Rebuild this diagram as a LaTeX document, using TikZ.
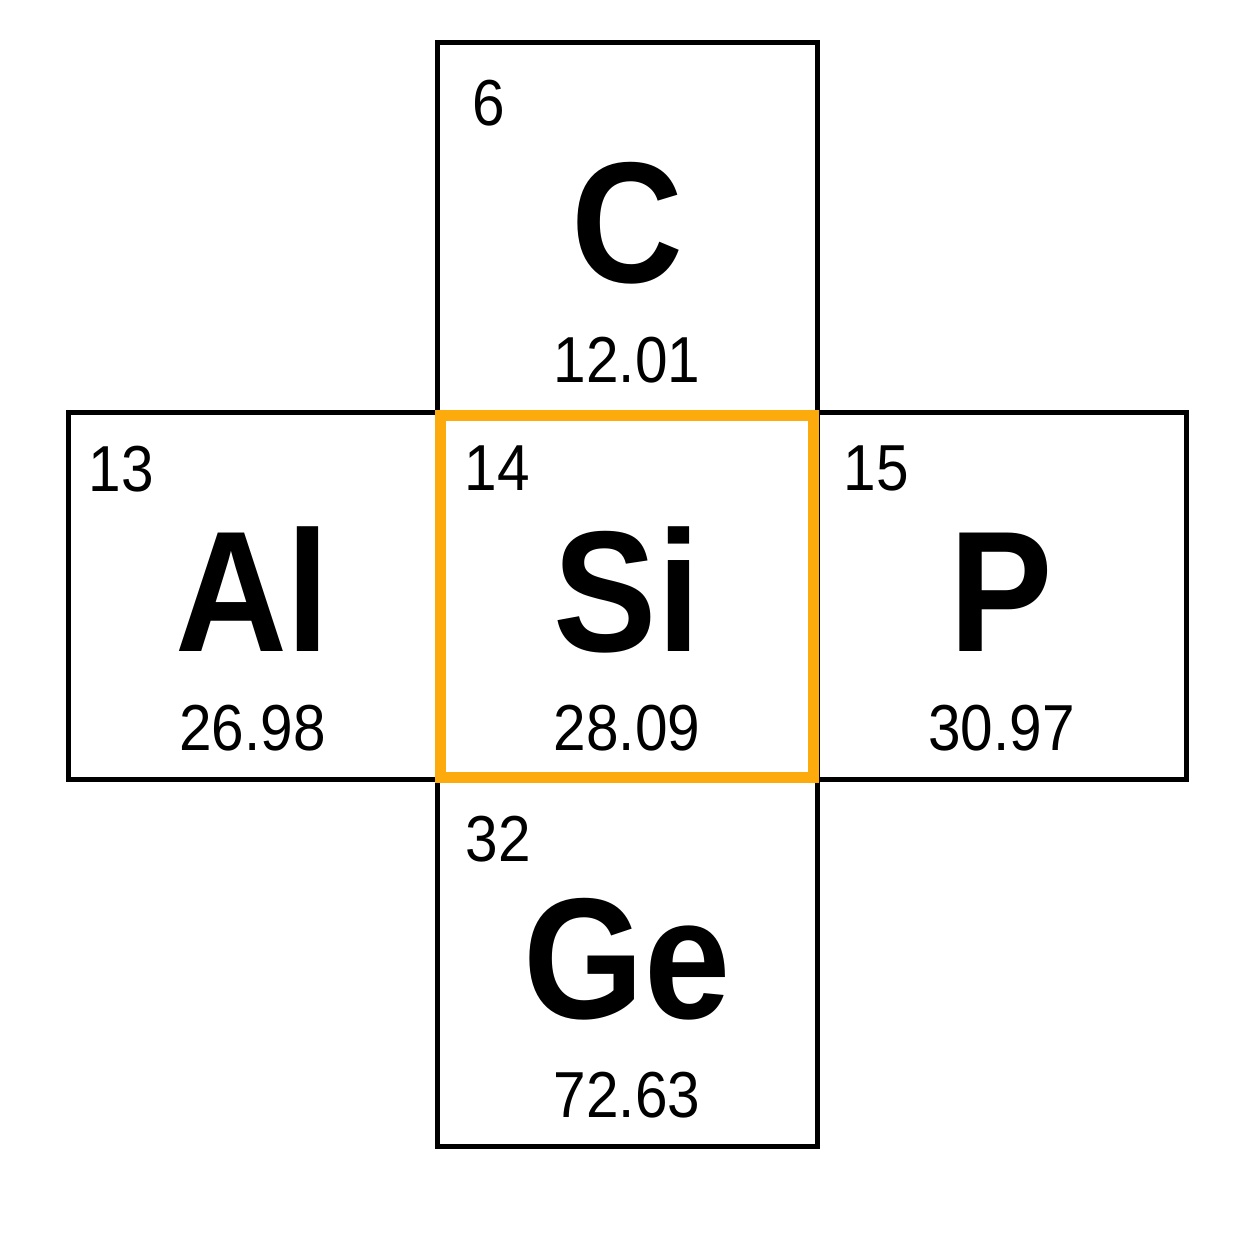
\documentclass[tikz,border=0pt]{standalone}
\usepackage{fontspec}
\setmainfont{Liberation Sans}[FakeStretch=0.9]
\usetikzlibrary{positioning}
\definecolor{siorange}{RGB}{252,170,12}

\begin{document}
\begin{tikzpicture}

        \tikzset{
            cell/.style={draw, line width=0.05cm, minimum width=3.80cm, minimum height=3.67cm, inner sep=0pt, outer sep=0pt},
            side/.style={cell, minimum width=3.69cm},
            num/.style={anchor=north west, inner sep=0pt, font=\fontsize{18.5pt}{20pt}\selectfont},
            sym/.style={anchor=base, inner sep=0pt, font=\fontsize{49pt}{56pt}\selectfont\bfseries},
            mass/.style={anchor=base, inner sep=0pt, font=\fontsize{18.5pt}{20pt}\selectfont},
            hilite/.style={draw=siorange, line width=0.11cm}
        }

        \useasboundingbox (0,0) rectangle (12.54,-12.54);

        \node[cell] (si) at (6.27,-5.96) {};
        \node[cell, minimum height=3.70cm, above=0pt of si] (c) {};
        \node[side, left=0pt of si] (al) {};
        \node[side, right=0pt of si] (p) {};
        \node[cell, below=0pt of si] (ge) {};

        \draw[hilite]
        ([shift={(0.035,-0.035)}]si.north west) rectangle
        ([shift={(-0.035,0.025)}]si.south east);

        \node[num] (c-num) at ([shift={(0.35,-0.37)}]c.north west) {6};
        \node[sym] (c-sym) at ([yshift=-2.40cm]c.north) {C};
        \node[mass] (c-mass) at ([yshift=-3.40cm]c.north) {12.01};

        \node[num] (al-num) at ([shift={(0.20,-0.33)}]al.north west) {13};
        \node[sym] (al-sym) at ([yshift=-2.39cm]al.north) {Al};
        \node[mass] (al-mass) at ([yshift=-3.38cm]al.north) {26.98};

        \node[num] (si-num) at ([shift={(0.27,-0.33)}]si.north west) {14};
        \node[sym] (si-sym) at ([yshift=-2.39cm]si.north) {Si};
        \node[mass] (si-mass) at ([yshift=-3.38cm]si.north) {28.09};

        \node[num] (p-num) at ([shift={(0.26,-0.33)}]p.north west) {15};
        \node[sym] (p-sym) at ([yshift=-2.39cm]p.north) {P};
        \node[mass] (p-mass) at ([yshift=-3.38cm]p.north) {30.97};

        \node[num] (ge-num) at ([shift={(0.28,-0.36)}]ge.north west) {32};
        \node[sym] (ge-sym) at ([yshift=-2.39cm]ge.north) {Ge};
        \node[mass] (ge-mass) at ([yshift=-3.38cm]ge.north) {72.63};

    \end{tikzpicture}
\end{document}
